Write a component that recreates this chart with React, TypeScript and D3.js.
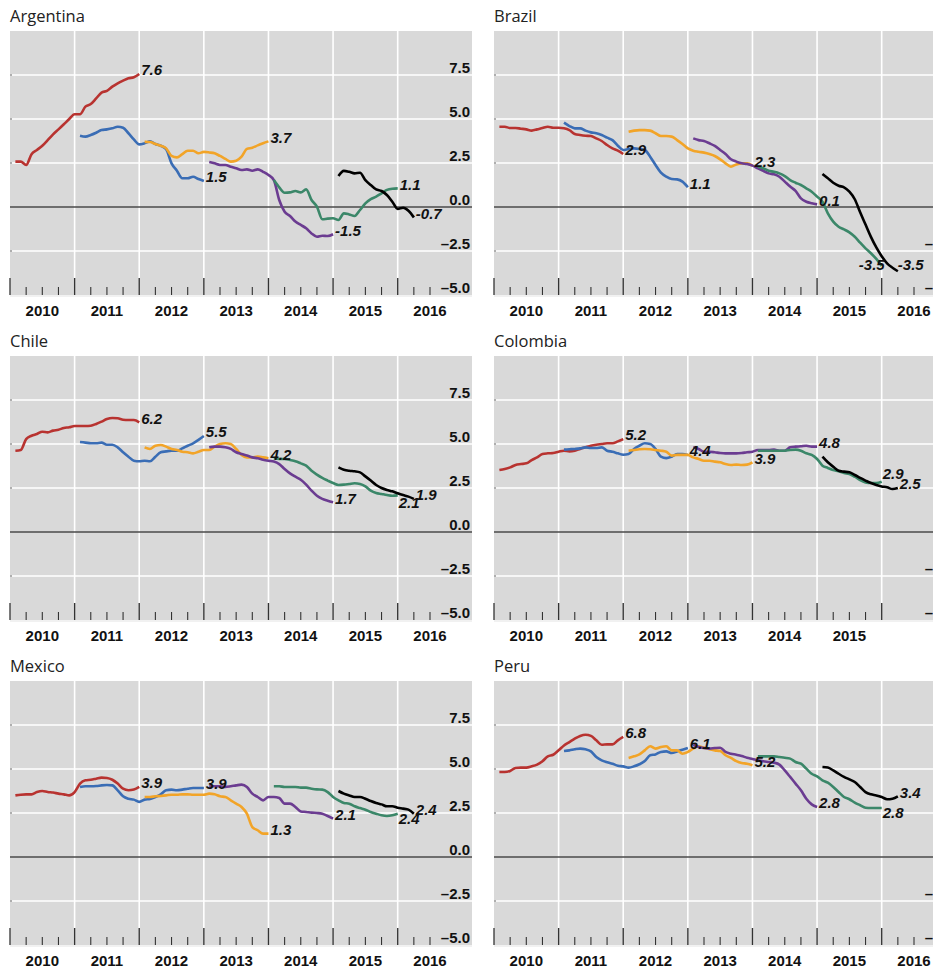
import React from "react";
import * as d3 from "d3";

// ---------- DATA (monthly forecast vintages, % growth) ----------
// start month index (months since Jan 2010, plotted at month end) of each vintage
const vintageStart = [1, 13, 25, 37, 49, 61];
const vintageNames = ["v2011", "v2012", "v2013", "v2014", "v2015", "v2016"];
const yearLabels = ["2010", "2011", "2012", "2013", "2014", "2015", "2016"];
const yTicks = [7.5, 5.0, 2.5, 0.0, -2.5, -5.0];

const argentina2011 = [2.58, 2.58, 2.39, 3.0, 3.24, 3.48, 3.8, 4.13, 4.41, 4.7, 5.0, 5.27, 5.27, 5.7, 5.85, 6.17, 6.5, 6.6, 6.84, 7.03, 7.18, 7.31, 7.37, 7.56];
const argentina2012 = [4.05, 4.0, 4.09, 4.22, 4.37, 4.41, 4.47, 4.56, 4.5, 4.19, 3.84, 3.56, 3.62, 3.73, 3.58, 3.48, 3.28, 2.48, 2.06, 1.63, 1.63, 1.72, 1.59, 1.48];
const argentina2013 = [3.7, 3.69, 3.58, 3.48, 3.33, 2.9, 2.82, 3.01, 3.2, 3.2, 3.05, 3.13, 3.1, 3.05, 2.9, 2.73, 2.58, 2.63, 2.86, 3.3, 3.37, 3.5, 3.62, 3.73];
const argentina2014 = [2.56, 2.48, 2.39, 2.39, 2.29, 2.2, 2.1, 2.14, 2.06, 2.14, 2.0, 1.82, 1.53, 0.4, -0.27, -0.51, -0.83, -1.02, -1.21, -1.5, -1.69, -1.63, -1.65, -1.55];
const argentina2015 = [1.53, 1.12, 0.81, 0.83, 0.91, 0.83, 1.0, 0.4, 0.02, -0.7, -0.66, -0.64, -0.74, -0.36, -0.42, -0.51, -0.17, 0.21, 0.45, 0.59, 0.78, 0.97, 1.04, 1.06];
const argentina2016 = [1.76, 2.05, 2.0, 1.91, 1.95, 1.53, 1.25, 1.0, 0.91, 0.68, 0.3, -0.11, -0.04, -0.21, -0.59];
const argentinaLabels = ["7.6", "1.5", "3.7", "-1.5", "1.1", "-0.7"];

const brazil2011 = [4.56, 4.56, 4.49, 4.49, 4.45, 4.41, 4.34, 4.41, 4.49, 4.56, 4.5, 4.5, 4.47, 4.37, 4.15, 4.09, 4.05, 4.03, 3.9, 3.75, 3.52, 3.33, 3.2, 3.01];
const brazil2012 = [4.79, 4.6, 4.47, 4.47, 4.34, 4.24, 4.19, 4.09, 3.94, 3.8, 3.48, 3.24, 3.3, 3.33, 3.3, 3.24, 2.86, 2.39, 1.95, 1.72, 1.59, 1.57, 1.44, 1.12];
const brazil2013 = [4.28, 4.34, 4.37, 4.37, 4.34, 4.19, 4.03, 4.03, 4.0, 3.8, 3.58, 3.33, 3.2, 3.14, 3.09, 3.01, 2.9, 2.71, 2.48, 2.29, 2.42, 2.48, 2.48, 2.35];
const brazil2014 = [3.9, 3.8, 3.75, 3.62, 3.47, 3.24, 3.01, 2.71, 2.58, 2.48, 2.44, 2.35, 2.2, 2.06, 1.91, 1.86, 1.72, 1.44, 1.16, 0.91, 0.49, 0.3, 0.21, 0.15];
const brazil2015 = [2.29, 2.2, 2.06, 2.0, 1.91, 1.76, 1.53, 1.38, 1.25, 1.06, 0.87, 0.59, 0.3, -0.36, -0.83, -1.12, -1.27, -1.44, -1.69, -2.03, -2.35, -2.63, -2.95, -3.35];
const brazil2016 = [1.88, 1.63, 1.38, 1.21, 1.12, 0.87, 0.44, -0.3, -1.0, -1.7, -2.3, -2.8, -3.2, -3.45, -3.65];
const brazilLabels = ["2.9", "1.1", "2.3", "0.1", "-3.5", "-3.5"];

const chile2011 = [4.62, 4.66, 5.28, 5.47, 5.57, 5.7, 5.66, 5.76, 5.81, 5.91, 5.95, 6.02, 6.02, 6.02, 6.04, 6.14, 6.27, 6.42, 6.48, 6.46, 6.38, 6.36, 6.36, 6.23];
const chile2012 = [5.11, 5.08, 5.04, 5.04, 5.08, 4.96, 4.96, 4.81, 4.53, 4.28, 4.05, 4.02, 4.05, 4.02, 4.28, 4.53, 4.58, 4.62, 4.62, 4.75, 4.9, 5.04, 5.23, 5.45];
const chile2013 = [4.81, 4.72, 4.9, 4.94, 4.85, 4.72, 4.66, 4.56, 4.53, 4.47, 4.56, 4.66, 4.66, 4.85, 5.0, 5.04, 5.0, 4.72, 4.38, 4.24, 4.24, 4.28, 4.24, 4.19];
const chile2014 = [4.81, 4.85, 4.85, 4.81, 4.72, 4.53, 4.43, 4.34, 4.24, 4.19, 4.11, 4.05, 4.0, 3.86, 3.58, 3.33, 3.14, 2.97, 2.69, 2.35, 2.06, 1.88, 1.78, 1.69];
const chile2015 = [4.19, 4.15, 4.15, 4.09, 4.02, 3.9, 3.77, 3.48, 3.26, 3.07, 2.92, 2.78, 2.67, 2.69, 2.73, 2.77, 2.73, 2.59, 2.35, 2.22, 2.16, 2.1, 2.06, 2.08];
const chile2016 = [3.67, 3.54, 3.48, 3.45, 3.39, 3.16, 2.92, 2.67, 2.5, 2.39, 2.31, 2.2, 2.1, 2.01, 1.88];
const chileLabels = ["6.2", "5.5", "4.2", "1.7", "2.1", "1.9"];

const colombia2011 = [3.52, 3.58, 3.67, 3.81, 3.86, 3.9, 4.09, 4.24, 4.43, 4.47, 4.49, 4.56, 4.62, 4.58, 4.62, 4.72, 4.81, 4.9, 4.96, 5.0, 5.04, 5.04, 5.15, 5.28];
const colombia2012 = [4.68, 4.7, 4.72, 4.75, 4.81, 4.77, 4.77, 4.81, 4.62, 4.56, 4.47, 4.39, 4.43, 4.72, 4.9, 5.04, 5.0, 4.72, 4.28, 4.2, 4.28, 4.43, 4.43, 4.38];
const colombia2013 = [4.62, 4.66, 4.7, 4.72, 4.7, 4.66, 4.62, 4.56, 4.34, 4.38, 4.38, 4.38, 4.24, 4.15, 4.05, 4.05, 4.0, 3.96, 3.86, 3.81, 3.83, 3.81, 3.83, 3.96];
const colombia2014 = [4.81, 4.72, 4.56, 4.56, 4.53, 4.49, 4.47, 4.47, 4.47, 4.49, 4.53, 4.56, 4.66, 4.66, 4.66, 4.68, 4.62, 4.62, 4.81, 4.85, 4.87, 4.9, 4.85, 4.85];
const colombia2015 = [4.62, 4.62, 4.62, 4.62, 4.62, 4.62, 4.66, 4.68, 4.62, 4.47, 4.38, 4.15, 3.77, 3.64, 3.52, 3.45, 3.35, 3.3, 3.14, 2.95, 2.82, 2.78, 2.78, 2.86];
const colombia2016 = [4.28, 3.96, 3.71, 3.48, 3.43, 3.39, 3.24, 3.07, 2.92, 2.78, 2.67, 2.59, 2.54, 2.44, 2.5];
const colombiaLabels = ["5.2", "4.4", "3.9", "4.8", "2.9", "2.5"];

const mexico2011 = [3.5, 3.54, 3.56, 3.56, 3.69, 3.75, 3.69, 3.66, 3.6, 3.56, 3.5, 3.69, 4.17, 4.36, 4.39, 4.45, 4.51, 4.49, 4.39, 4.17, 3.88, 3.79, 3.83, 3.98];
const mexico2012 = [3.98, 4.02, 4.02, 4.03, 4.07, 4.09, 4.07, 3.79, 3.45, 3.31, 3.26, 3.13, 3.26, 3.3, 3.41, 3.56, 3.79, 3.83, 3.79, 3.83, 3.88, 3.92, 3.92, 3.92];
const mexico2013 = [3.41, 3.41, 3.45, 3.47, 3.5, 3.54, 3.54, 3.56, 3.56, 3.54, 3.54, 3.54, 3.6, 3.56, 3.45, 3.41, 3.22, 3.03, 2.84, 2.46, 1.7, 1.52, 1.33, 1.33];
const mexico2014 = [4.02, 4.02, 4.02, 3.98, 4.02, 4.07, 4.11, 3.98, 3.6, 3.41, 3.22, 3.41, 3.41, 3.35, 3.03, 3.03, 2.84, 2.59, 2.56, 2.52, 2.5, 2.46, 2.33, 2.18];
const mexico2015 = [4.02, 4.02, 3.98, 3.98, 3.98, 3.94, 3.94, 3.88, 3.84, 3.83, 3.69, 3.41, 3.22, 3.07, 3.03, 2.88, 2.78, 2.69, 2.56, 2.46, 2.37, 2.33, 2.37, 2.46];
const mexico2016 = [3.75, 3.6, 3.5, 3.41, 3.41, 3.31, 3.18, 3.07, 2.99, 2.88, 2.88, 2.8, 2.75, 2.69, 2.46];
const mexicoLabels = ["3.9", "3.9", "1.3", "2.1", "2.4", "2.4"];

const peru2011 = [4.83, 4.83, 4.89, 5.06, 5.08, 5.08, 5.15, 5.25, 5.44, 5.72, 5.81, 6.06, 6.34, 6.53, 6.72, 6.88, 6.95, 6.88, 6.63, 6.38, 6.4, 6.4, 6.63, 6.82];
const peru2012 = [6.02, 6.06, 6.12, 6.16, 6.12, 6.0, 5.68, 5.49, 5.38, 5.3, 5.19, 5.15, 5.08, 5.15, 5.27, 5.45, 5.78, 5.83, 5.97, 6.0, 5.91, 6.0, 6.1, 6.19];
const peru2013 = [5.63, 5.72, 5.83, 6.06, 6.29, 6.16, 6.25, 6.29, 6.06, 6.06, 5.87, 5.97, 6.16, 6.29, 6.21, 6.12, 6.06, 6.02, 5.78, 5.63, 5.45, 5.34, 5.3, 5.21];
const peru2014 = [6.38, 6.25, 6.19, 6.16, 6.19, 6.21, 5.97, 5.87, 5.81, 5.74, 5.64, 5.57, 5.49, 5.44, 5.4, 5.36, 5.25, 4.92, 4.55, 4.17, 3.79, 3.31, 2.99, 2.84];
const peru2015 = [5.72, 5.72, 5.72, 5.72, 5.68, 5.64, 5.59, 5.4, 5.3, 5.02, 4.73, 4.58, 4.36, 4.22, 3.98, 3.69, 3.41, 3.28, 3.09, 2.94, 2.8, 2.78, 2.78, 2.78];
const peru2016 = [5.11, 5.08, 4.92, 4.73, 4.55, 4.41, 4.26, 3.98, 3.69, 3.56, 3.5, 3.41, 3.28, 3.31, 3.45];
const peruLabels = ["6.8", "6.1", "5.2", "2.8", "2.8", "3.4"];

// ---------- STYLE / LAYOUT ----------
const COLORS = ["#b83330", "#3a6db5", "#f2a428", "#6b3c91", "#3b8769", "#000000"];
const W = 933;
const H = 968;
const PW = 462;
const PH = 264;
const colX = [10, 494];
const rowY = [31, 356, 681];

// label nudges: [dx, dy, anchor]
const labelNudge: Record<string, [number, number, string]> = {
  "Brazil-4": [3, -1, "end"],
  "Brazil-5": [0, -6, "start"],
  "Chile-4": [1, 7, "start"],
  "Colombia-4": [1, -8, "start"],
  "Mexico-4": [1, 5, "start"],
  "Peru-4": [1, 5, "start"],
};

const panels = [
  { name: "Argentina", series: [argentina2011, argentina2012, argentina2013, argentina2014, argentina2015, argentina2016], labels: argentinaLabels, tickEnd: 78, years: 7 },
  { name: "Brazil", series: [brazil2011, brazil2012, brazil2013, brazil2014, brazil2015, brazil2016], labels: brazilLabels, tickEnd: 78, years: 7 },
  { name: "Chile", series: [chile2011, chile2012, chile2013, chile2014, chile2015, chile2016], labels: chileLabels, tickEnd: 78, years: 7 },
  { name: "Colombia", series: [colombia2011, colombia2012, colombia2013, colombia2014, colombia2015, colombia2016], labels: colombiaLabels, tickEnd: 72, years: 6 },
  { name: "Mexico", series: [mexico2011, mexico2012, mexico2013, mexico2014, mexico2015, mexico2016], labels: mexicoLabels, tickEnd: 78, years: 7 },
  { name: "Peru", series: [peru2011, peru2012, peru2013, peru2014, peru2015, peru2016], labels: peruLabels, tickEnd: 78, years: 7 },
];

const x = d3.scaleLinear().domain([0, 85.8]).range([0, PW]);
const y = d3.scaleLinear().domain([-5, 10]).range([PH, 0]);
const line = d3
  .line<[number, number]>()
  .x((d) => x(d[0]))
  .y((d) => y(d[1]))
  .curve(d3.curveMonotoneX);

const fmtTick = (v: number) => (v < 0 ? "\u2013" + Math.abs(v).toFixed(1) : v.toFixed(1));
const numFont = "'Liberation Sans', Arial, Helvetica, sans-serif";

function Panel({ p, px, py }: { p: (typeof panels)[number]; px: number; py: number }) {
  const ticks = d3.range(0, p.tickEnd + 1, 3);
  const yearGrid = d3.range(12, 73, 12);
  return (
    <g transform={`translate(${px},${py})`}>
      <text x={0} y={-9.5} fontFamily="'Segoe UI', 'Open Sans', sans-serif" fontSize={16.5} fill="#222">
        {p.name}
      </text>
      <rect x={0} y={0} width={PW} height={PH} fill="#d9d9d9" />
      <line x1={0} x2={PW} y1={PH + 1} y2={PH + 1} stroke="#ececec" strokeWidth={1.5} />
      {[7.5, 5, 2.5, -2.5].map((v) => (
        <line key={v} x1={0} x2={PW} y1={y(v)} y2={y(v)} stroke="#fff" strokeWidth={1.6} />
      ))}
      {yearGrid.map((m) => (
        <line key={m} x1={x(m)} x2={x(m)} y1={0} y2={PH - 17} stroke="#fff" strokeWidth={1.6} />
      ))}
      {[7.5, 5, 2.5, -2.5].map((v) => (
        <line key={"lt" + v} x1={0} x2={2} y1={y(v)} y2={y(v)} stroke="#666" strokeWidth={1} />
      ))}
      <line x1={0} x2={PW} y1={y(0)} y2={y(0)} stroke="#4a4a4a" strokeWidth={1.3} />
      {ticks.map((m) => (
        <line
          key={"t" + m}
          x1={x(m)}
          x2={x(m)}
          y1={m % 12 === 0 ? PH - 17 : PH - 8}
          y2={PH}
          stroke="#333"
          strokeWidth={m % 12 === 0 ? 1.3 : 1.1}
        />
      ))}
      {yearLabels.slice(0, p.years).map((yl, i) => (
        <text
          key={yl}
          x={x(6 + 12 * i)}
          y={PH + 21}
          textAnchor="middle"
          fontFamily={numFont}
          fontWeight="bold"
          fontSize={15}
          fill="#111"
        >
          {yl}
        </text>
      ))}
      {yTicks.map((v) => (
        <text
          key={"yl" + v}
          x={PW - 2}
          y={y(v) - 2}
          textAnchor="end"
          fontFamily={numFont}
          fontWeight="bold"
          fontSize={15}
          fill="#111"
        >
          {fmtTick(v)}
        </text>
      ))}
      {p.series.map((vals, si) => {
        const pts: [number, number][] = vals.map((v, i) => [vintageStart[si] + i, v]);
        return (
          <path
            key={vintageNames[si]}
            d={line(pts) || ""}
            fill="none"
            stroke={COLORS[si]}
            strokeWidth={2.6}
            strokeLinejoin="round"
            strokeLinecap="butt"
          />
        );
      })}
      {p.series.map((vals, si) => {
        const lastM = vintageStart[si] + vals.length - 1;
        const lastV = vals[vals.length - 1];
        const nudge = labelNudge[`${p.name}-${si}`] || [2, -4, "start"];
        return (
          <text
            key={"lab" + si}
            x={x(lastM) + nudge[0]}
            y={y(lastV) + nudge[1]}
            dy="0.35em"
            textAnchor={nudge[2] as any}
            fontFamily={numFont}
            fontWeight="bold"
            fontStyle="italic"
            fontSize={15}
            fill="#111"
          >
            {p.labels[si]}
          </text>
        );
      })}
    </g>
  );
}

export default function App() {
  return (
    <svg
      width={W}
      height={H}
      viewBox={`0 0 ${W} ${H}`}
      style={{ position: "absolute", left: 0, top: 0, background: "#fff" }}
    >
      {panels.map((p, i) => (
        <Panel key={p.name} p={p} px={colX[i % 2]} py={rowY[Math.floor(i / 2)]} />
      ))}
    </svg>
  );
}
